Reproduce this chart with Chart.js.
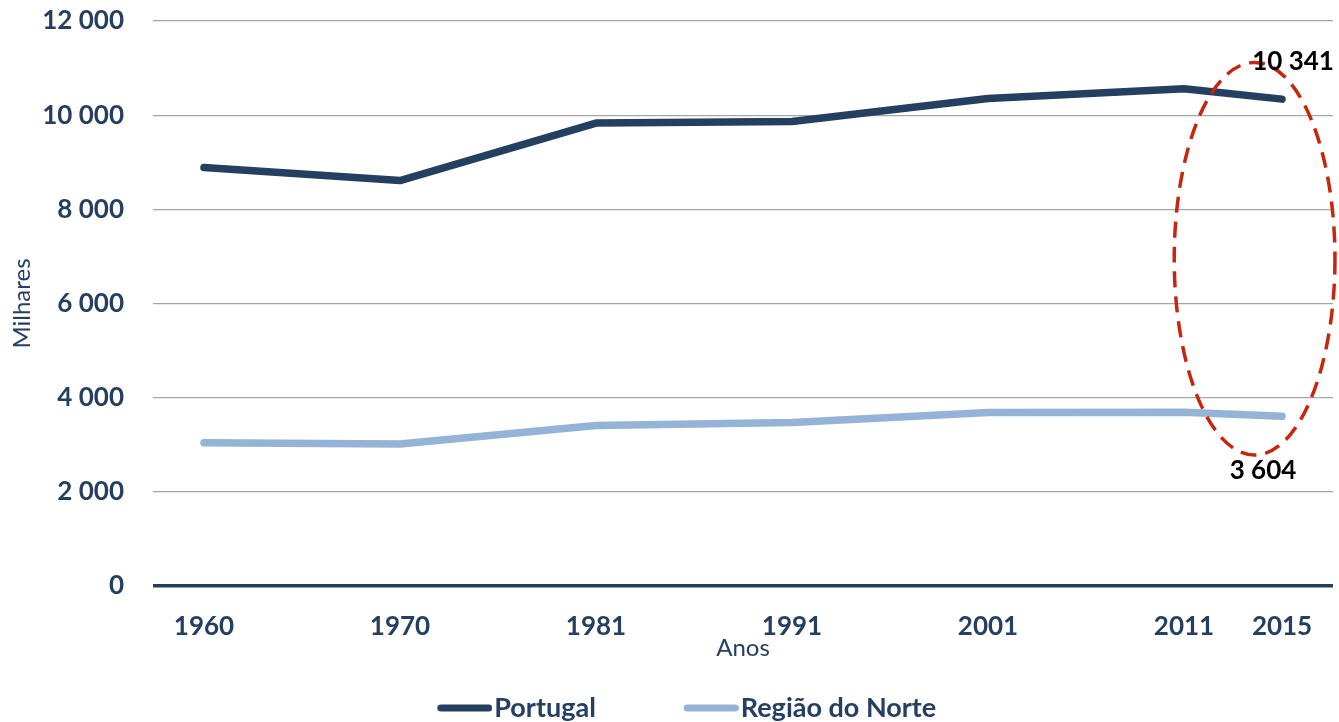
<!DOCTYPE html>
<html>
<head>
<meta charset="utf-8">
<script src="https://cdn.jsdelivr.net/npm/chart.js@4"></script>
<style>
  html, body { margin: 0; padding: 0; background: #fff; }
  #wrap { width: 1339px; height: 722px; }
</style>
</head>
<body>
<div id="wrap"><canvas id="chart" width="1339" height="722"></canvas></div>
<script>
// census years (2015 is an estimate, sits half a step after 2011 on the axis)
const years = ['1960', '1970', '1981', '1991', '2001', '2011', '2015'];
const slots = [0, 1, 2, 3, 4, 5, 5.5];
const portugal = [8889, 8611, 9833, 9867, 10356, 10562, 10341];
const norte = [3043, 3014, 3410, 3472, 3687, 3689, 3604];
const yTicks = [0, 2000, 4000, 6000, 8000, 10000, 12000];

const DARK = '#243F60';
const LIGHT = '#95B3D7';
const FONT = 'Lato, "Open Sans", sans-serif';

const fmt = v => String(v).replace(/\B(?=(\d{3})+(?!\d))/g, ' ');

// legend marker: thick rounded line, drawn off-centre so it sits right next to the text
function legendLine(color) {
    const c = document.createElement('canvas');
    c.width = 67;
    c.height = 10;
    const g = c.getContext('2d');
    g.strokeStyle = color;
    g.lineWidth = 7;
    g.lineCap = 'round';
    g.beginPath();
    g.moveTo(15.5, 5);
    g.lineTo(63.5, 5);
    g.stroke();
    return c;
}

// red dashed ellipse + the two value labels for 2015
const highlight = {
    id: 'highlight',
    afterDatasetsDraw(chart) {
        const { ctx, scales: { x, y } } = chart;
        const last = years.length - 1;
        const px = x.getPixelForValue(slots[last]);

        const cx = x.getPixelForValue(5.36);
        const cy = y.getPixelForValue(6950);
        const rx = Math.abs(x.getPixelForValue(5.36 + 0.41) - cx);
        const ry = Math.abs(y.getPixelForValue(6950 + 4170) - cy);

        ctx.save();
        ctx.strokeStyle = '#C8250F';
        ctx.lineWidth = 3.5;
        ctx.setLineDash([16, 9]);
        ctx.beginPath();
        ctx.ellipse(cx, cy, rx, ry, 0, 0, Math.PI * 2);
        ctx.stroke();
        ctx.setLineDash([]);

        ctx.fillStyle = '#000';
        ctx.font = 'bold 26px ' + FONT;
        ctx.textAlign = 'center';
        ctx.textBaseline = 'middle';
        ctx.fillText(fmt(portugal[last]), px + 11, y.getPixelForValue(portugal[last]) - 38);
        ctx.fillText(fmt(norte[last]), px - 19, y.getPixelForValue(norte[last]) + 54);
        ctx.restore();
    }
};

new Chart(document.getElementById('chart'), {
    type: 'line',
    data: {
        datasets: [{
            label: 'Portugal',
            data: slots.map((s, i) => ({ x: s, y: portugal[i] })),
            borderColor: DARK,
            backgroundColor: DARK,
            borderWidth: 7.5,
            borderCapStyle: 'round',
            borderJoinStyle: 'round',
            pointRadius: 0,
            pointStyle: legendLine(DARK),
            tension: 0,
        }, {
            label: 'Região do Norte',
            data: slots.map((s, i) => ({ x: s, y: norte[i] })),
            borderColor: LIGHT,
            backgroundColor: LIGHT,
            borderWidth: 7.5,
            borderCapStyle: 'round',
            borderJoinStyle: 'round',
            pointRadius: 0,
            pointStyle: legendLine(LIGHT),
            tension: 0,
        }]
    },
    options: {
        responsive: false,
        devicePixelRatio: 1,
        animation: false,
        layout: { padding: { top: 0, right: 6, bottom: -9.5, left: 40 } },
        scales: {
            x: {
                type: 'linear',
                min: -0.26,
                max: 5.76,
                afterBuildTicks: (s) => { s.ticks = slots.map(v => ({ value: v })); },
                afterFit: (s) => { s.height = 78.5; },
                grid: { display: false },
                border: { display: false },
                ticks: {
                    color: DARK,
                    padding: 17,
                    font: { family: FONT, size: 26, weight: 'bold' },
                    callback: (v) => years[slots.indexOf(v)],
                    maxRotation: 0,
                    autoSkip: false,
                },
                title: {
                    display: true,
                    text: 'Anos',
                    color: DARK,
                    font: { family: FONT, size: 24 },
                    padding: { top: 0, bottom: 2 },
                },
            },
            y: {
                min: 0,
                max: 12000,
                afterBuildTicks: (s) => { s.ticks = yTicks.map(v => ({ value: v })); },
                afterFit: (s) => {
                    s.width = 113;
                    s.paddingTop = 21;
                    s.paddingBottom = 0;
                },
                border: { display: false },
                grid: {
                    drawTicks: false,
                    color: (c) => c.tick.value === 0 ? DARK : '#A6A6A6',
                    lineWidth: (c) => c.tick.value === 0 ? 3.5 : 1.2,
                },
                ticks: {
                    color: DARK,
                    padding: 29,
                    font: { family: FONT, size: 26, weight: 'bold' },
                    callback: (v) => fmt(v),
                },
                title: {
                    display: true,
                    text: 'Milhares',
                    color: DARK,
                    font: { family: FONT, size: 24 },
                    padding: { top: -32, bottom: 0 },
                },
            },
        },
        plugins: {
            legend: {
                position: 'bottom',
                labels: {
                    usePointStyle: true,
                    pointStyleWidth: 44,
                    boxHeight: 7,
                    padding: 30,
                    color: DARK,
                    font: { family: FONT, size: 27, weight: 'bold' },
                    // a little extra room after the first entry, as in the original
                    generateLabels: (chart) => Chart.defaults.plugins.legend.labels.generateLabels(chart)
                        .map((item, i) => i === 0 ? { ...item, text: item.text + '\u2002\u2002\u2002\u2002\u2009' } : item),
                },
            },
            tooltip: { enabled: false },
        },
    },
    plugins: [highlight],
});
</script>
</body>
</html>
